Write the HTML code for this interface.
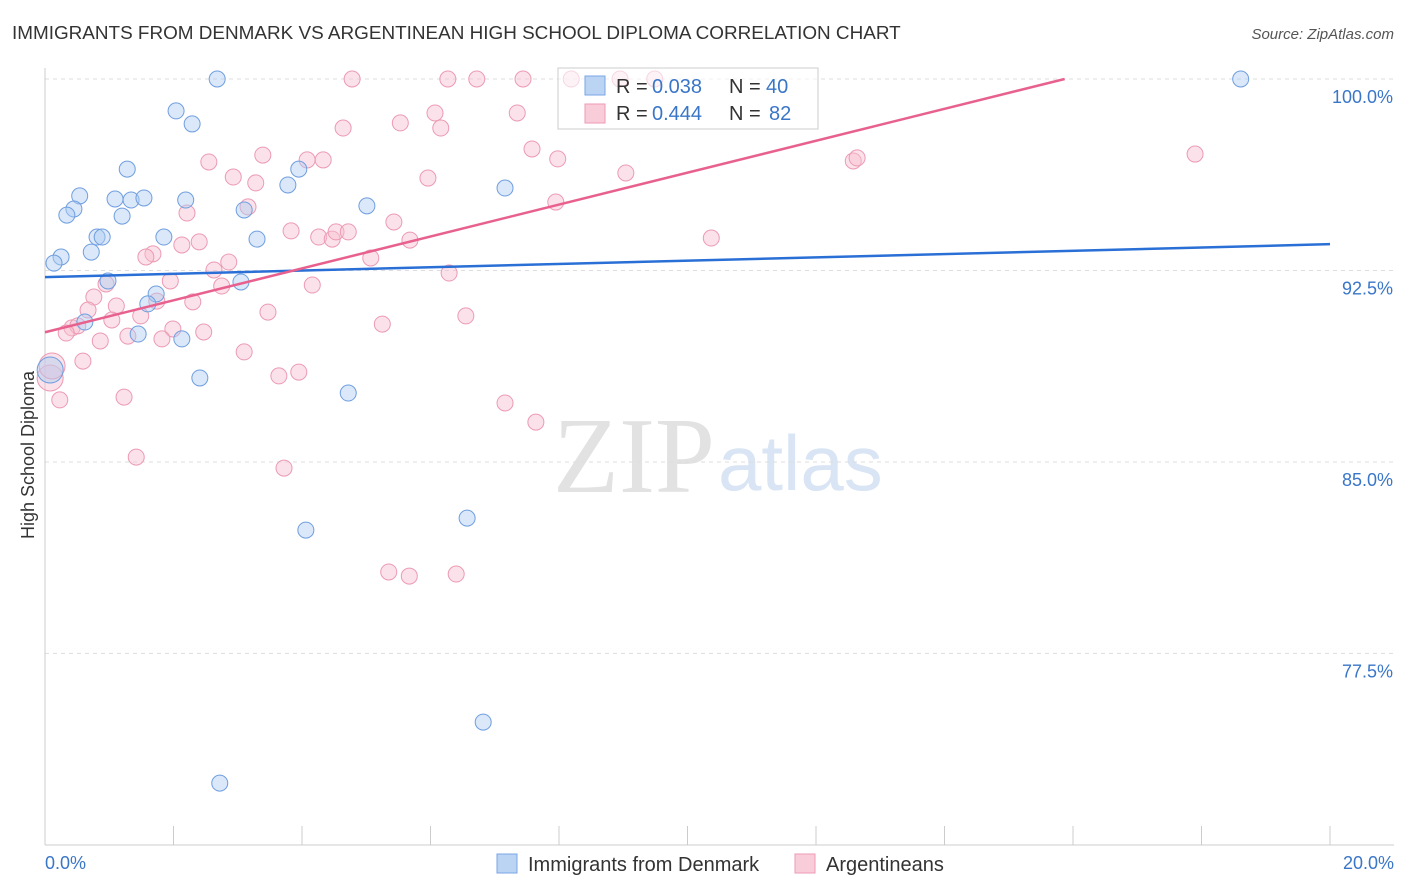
<!DOCTYPE html>
<html><head><meta charset="utf-8"><style>
body{margin:0;background:#fff;font-family:"Liberation Sans",sans-serif;}
svg{display:block}
</style></head><body>
<svg id="chart" width="1406" height="892">
<text x="12" y="39" font-size="18.9" fill="#333">IMMIGRANTS FROM DENMARK VS ARGENTINEAN HIGH SCHOOL DIPLOMA CORRELATION CHART</text>
<text x="1394" y="39" font-size="15" fill="#555" font-style="italic" text-anchor="end">Source: ZipAtlas.com</text>
<text x="553" y="492" font-size="108" fill="#e2e2e2" font-family="Liberation Serif">ZIP</text>
<text x="718" y="490" font-size="78" fill="#d9e5f4">atlas</text>
<g id="grid"></g>
<line x1="45" y1="68" x2="45" y2="845" stroke="#ccc"/>
<line x1="45" y1="845" x2="1394" y2="845" stroke="#ccc"/>
<text x="34" y="455" font-size="18" fill="#333" text-anchor="middle" transform="rotate(-90 34 455)">High School Diploma</text>
<text x="45" y="869" font-size="18" fill="#3a76c8">0.0%</text>
<text x="1394" y="869" font-size="18" fill="#3a76c8" text-anchor="end">20.0%</text>
<g id="pts"></g>
<g id="lines"></g>
<g>
<rect x="558" y="68" width="260" height="61" fill="#fff" fill-opacity="0.6" stroke="#ccc"/>
<rect x="585" y="76" width="20" height="19" fill="#bcd4f4" stroke="#7aa6e6"/>
<rect x="585" y="104" width="20" height="19" fill="#f9ccd9" stroke="#ef9ab4"/>
<text x="616" y="93" font-size="20" fill="#333">R =</text>
<text x="652" y="93" font-size="20" fill="#3a76c8">0.038</text>
<text x="729" y="93" font-size="20" fill="#333">N =</text>
<text x="766" y="93" font-size="20" fill="#3a76c8">40</text>
<text x="616" y="120" font-size="20" fill="#333">R =</text>
<text x="652" y="120" font-size="20" fill="#3a76c8">0.444</text>
<text x="729" y="120" font-size="20" fill="#333">N =</text>
<text x="769" y="120" font-size="20" fill="#3a76c8">82</text>
</g>
<rect x="497" y="854" width="20" height="19" fill="#bcd4f4" stroke="#7aa6e6"/>
<text x="528" y="871" font-size="20" fill="#333">Immigrants from Denmark</text>
<rect x="795" y="854" width="20" height="19" fill="#f9ccd9" stroke="#ef9ab4"/>
<text x="826" y="871" font-size="20" fill="#333">Argentineans</text>
</svg>
<script>
const yTicks=[100,92.5,85,77.5];
const yTickLabels=["100.0%","92.5%","85.0%","77.5%"];
const xTicks=[0,2,4,6,8,10,12,14,16,18,20];
const bluePx=[[217,79],[1241,79],[176,111],[192,124],[127,169],[299,169],[80,196],[115,199],[131,200],[144,198],[186,200],[74,209],[67,215],[122,216],[244,210],[367,206],[288,185],[505,188],[97,237],[102,237],[164,237],[257,239],[91,252],[61,257],[54,263],[108,281],[241,282],[156,294],[148,304],[85,322],[138,334],[182,339],[200,378],[348,393],[467,518],[306,530],[483,722],[220,783],[50,370]];
const pinkPx=[[352,79],[448,79],[477,79],[523,79],[571,79],[620,79],[655,79],[517,113],[435,113],[400,123],[441,128],[343,128],[532,149],[558,159],[263,155],[307,160],[323,160],[209,162],[626,173],[853,161],[857,158],[1195,154],[233,177],[256,183],[428,178],[248,207],[187,213],[556,202],[394,222],[291,231],[319,237],[332,239],[336,232],[348,232],[410,240],[711,238],[182,245],[199,242],[153,254],[146,257],[229,262],[214,270],[371,258],[449,273],[170,281],[312,285],[106,284],[222,286],[94,297],[193,302],[157,301],[116,306],[88,310],[268,312],[141,316],[72,328],[78,326],[66,333],[112,320],[173,329],[204,332],[128,336],[162,339],[100,341],[382,324],[466,316],[244,352],[83,361],[279,376],[299,372],[124,397],[60,400],[505,403],[536,422],[136,457],[284,468],[389,572],[409,576],[456,574],[50,378],[52,366]];
const blueX=bluePx.map(p=>+((p[0]-45)/64.25).toFixed(2));
const blueY=bluePx.map(p=>+(100-(p[1]-79)/25.53).toFixed(2));
const pinkX=pinkPx.map(p=>+((p[0]-45)/64.25).toFixed(2));
const pinkY=pinkPx.map(p=>+(100-(p[1]-79)/25.53).toFixed(2));
const blueTrend=[[0,92.24],[20,93.53]];
const pinkTrend=[[0,90.08],[15.87,100]];
const X=v=>45+v*64.25, Y=v=>79+(100-v)*25.53;
const NS="http://www.w3.org/2000/svg";
const g=document.getElementById('grid');
yTicks.forEach((t,i)=>{
 const l=document.createElementNS(NS,'line');
 l.setAttribute('x1',45);l.setAttribute('x2',1394);l.setAttribute('y1',Y(t));l.setAttribute('y2',Y(t));
 l.setAttribute('stroke','#ddd');l.setAttribute('stroke-dasharray','4 4');
 
 
 g.appendChild(l);
 const tx=document.createElementNS(NS,'text');
 tx.setAttribute('x',1393);tx.setAttribute('y',Y(t)+24);tx.setAttribute('text-anchor','end');
 tx.setAttribute('font-size','18');tx.setAttribute('fill','#3a76c8');tx.textContent=yTickLabels[i];
 
 
 g.appendChild(tx);
});
xTicks.forEach(t=>{
 const l=document.createElementNS(NS,'line');
 l.setAttribute('x1',X(t));l.setAttribute('x2',X(t));l.setAttribute('y1',826);l.setAttribute('y2',845);
 l.setAttribute('stroke','#ccc');
 
 
 g.appendChild(l);
});
const P=document.getElementById('pts');
function dots(xs,ys,fill,stroke,name){
 xs.forEach((x,i)=>{
  const c=document.createElementNS(NS,'circle');
  const big=x<0.12;
  c.setAttribute('cx',X(x));c.setAttribute('cy',Y(ys[i]));c.setAttribute('r',big?13:8);
  c.setAttribute('fill',fill);c.setAttribute('stroke',stroke);c.setAttribute('fill-opacity','0.45');
  
  
  P.appendChild(c);
 });
}
dots(pinkX,pinkY,'#f7bfd0','#ec9ab3','point-argentineans');
dots(blueX,blueY,'#aecbf1','#6f9edf','point-denmark');
const L=document.getElementById('lines');
function line(t,col,name){
 const l=document.createElementNS(NS,'line');
 l.setAttribute('x1',X(t[0][0]));l.setAttribute('y1',Y(t[0][1]));l.setAttribute('x2',X(t[1][0]));l.setAttribute('y2',Y(t[1][1]));
 l.setAttribute('stroke',col);l.setAttribute('stroke-width','2.5');
 
 
 L.appendChild(l);
}
line(blueTrend,'#2a6fd6','trend-line-denmark');
line(pinkTrend,'#e8618e','trend-line-argentineans');
</script>
</body></html>
